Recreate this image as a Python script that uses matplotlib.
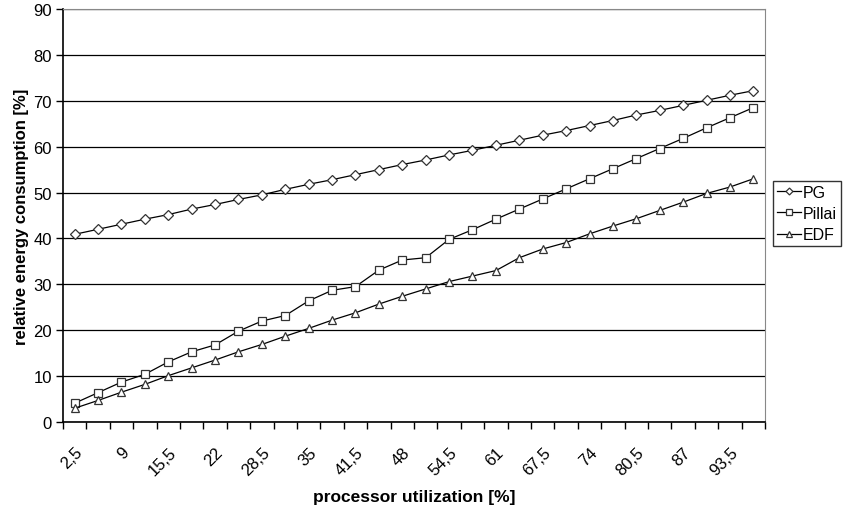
import numpy as np
import matplotlib.pyplot as plt
from matplotlib.transforms import ScaledTranslation

plt.rcParams['font.family'] = ['Liberation Sans', 'DejaVu Sans']

# processor utilization categories (every other one is labelled)
utilization = [2.5 + 3.25 * i for i in range(30)]
tick_labels = ["2,5", "9", "15,5", "22", "28,5", "35", "41,5", "48", "54,5",
               "61", "67,5", "74", "80,5", "87", "93,5"]

pg = [40.9, 42.0, 43.1, 44.2, 45.2, 46.4, 47.4, 48.5, 49.5, 50.7,
      51.8, 52.8, 53.9, 55.0, 56.1, 57.1, 58.2, 59.2, 60.3, 61.4,
      62.5, 63.5, 64.6, 65.7, 66.9, 67.9, 69.0, 70.1, 71.2, 72.2]
pillai = [4.1, 6.4, 8.7, 10.4, 13.1, 15.3, 16.8, 19.8, 22.0, 23.2,
          26.4, 28.7, 29.5, 33.1, 35.3, 35.8, 39.8, 41.9, 44.2, 46.4,
          48.6, 50.8, 53.0, 55.2, 57.4, 59.6, 61.8, 64.1, 66.3, 68.5]
edf = [3.0, 4.7, 6.5, 8.2, 10.1, 11.8, 13.5, 15.3, 16.9, 18.7,
       20.4, 22.2, 23.8, 25.7, 27.4, 29.0, 30.6, 31.8, 33.0, 35.8,
       37.7, 39.1, 41.0, 42.7, 44.3, 46.1, 47.9, 49.8, 51.2, 53.0]

fig = plt.figure(figsize=(8.5, 5.1), dpi=100)
ax = fig.add_axes([63 / 850, 1 - 423 / 510, 702 / 850, 413 / 510])

x = np.arange(len(utilization))
style = dict(color='black', linewidth=0.9, markersize=6,
             markerfacecolor='white', markeredgecolor='#333333', markeredgewidth=0.9)
ax.plot(x, pg, marker='D', label='PG', **{**style, 'markersize': 5})
ax.plot(x, pillai, marker='s', label='Pillai', **style)
ax.plot(x, edf, marker='^', label='EDF', **style)

ax.set_xlim(-0.5, len(x) - 0.5)
ax.set_ylim(0, 90)
ax.set_yticks(range(0, 91, 10))
ax.yaxis.grid(True, color='black', linewidth=0.9)
ax.set_axisbelow(True)

# tick marks between categories, labels on every second category
ax.set_xticks(np.arange(-0.5, len(x), 1.0), minor=True)
ax.set_xticks(x[::2])
ax.set_xticklabels(tick_labels, rotation=45, ha='right', va='top',
                   rotation_mode='anchor', fontsize=12)
shift = ScaledTranslation(-5 / 100, 0, fig.dpi_scale_trans)
for lbl in ax.get_xticklabels():
    lbl.set_transform(lbl.get_transform() + shift)
ax.tick_params(axis='x', which='major', length=0, pad=16)
ax.tick_params(axis='x', which='minor', length=5, width=1, direction='out')
ax.tick_params(axis='y', length=5, width=1, labelsize=12, pad=3)

for side in ['top', 'right']:
    ax.spines[side].set_color('#888888')
for side in ['left', 'bottom']:
    ax.spines[side].set_color('black')
    ax.spines[side].set_linewidth(1.2)

ax.set_xlabel('processor utilization [%]', fontweight='bold', fontsize=12.5, labelpad=8)
ax.set_ylabel('relative energy consumption [%]', fontweight='bold', fontsize=12, labelpad=3)

leg = ax.legend(loc='center left', bbox_to_anchor=(1.012, 0.505), fontsize=11.5,
                frameon=True, fancybox=False, edgecolor='black', borderpad=0.25,
                handlelength=1.5, handletextpad=0.1, labelspacing=0.4,
                borderaxespad=0, markerscale=0.7)
leg.get_frame().set_linewidth(1.0)

fig.savefig('out.png', dpi=100)
